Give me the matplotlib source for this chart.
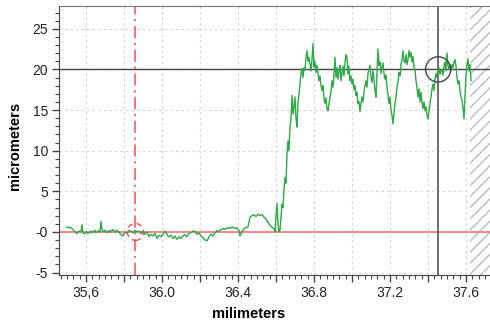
import matplotlib
matplotlib.use("Agg")
import matplotlib.pyplot as plt
import numpy as np
from matplotlib.patches import Ellipse
from matplotlib.ticker import MultipleLocator, FixedLocator, FixedFormatter

plt.rcParams["font.family"] = ["Liberation Sans", "DejaVu Sans"]
plt.rcParams["hatch.linewidth"] = 1.0

# profile sampled on a regular grid
x_start = 35.50
x_end = 37.626
heights = [
    0.6, 0.55, 0.5, 0.6, 0.55, 0.4, 0.3, 0.1, 0.0, -0.1,
    -0.2, 0.0, 0.1, 0.0, 0.0, 0.9, -0.1, -0.2, -0.2, -0.1,
    0.0, -0.2, -0.1, 0.0, 0.1, -0.1, 0.0, 0.1, 0.2, -0.1,
    0.0, 0.1, 0.1, 0.0, 1.3, 0.3, 0.1, 0.0, 0.2, 0.1,
    -0.1, 0.0, 0.2, 0.0, 0.1, 0.2, 0.3, 0.1, 0.0, 0.1,
    0.2, 0.1, 0.0, -0.2, -0.3, -0.4, -0.5, -0.2, 0.0, -0.1,
    -0.2, 0.0, 0.2, 0.1, 0.1, 0.0, -0.1, 0.0, 0.2, 0.1,
    0.0, 0.1, 0.1, 0.0, -0.2, -0.1, 0.1, -0.1, -0.3, -0.1,
    0.0, -0.3, -0.6, -0.4, -0.3, -0.4, -0.5, -0.3, -0.2, -0.5,
    -0.8, -0.6, -0.4, -0.5, -0.6, -0.4, -0.3, -0.1, 0.1, -0.1,
    -0.3, -0.5, -0.6, -0.5, -0.4, -0.6, -0.8, -0.7, -0.5, -0.7,
    -0.9, -0.8, -0.6, -0.7, -0.8, -0.6, -0.5, -0.4, -0.3, -0.5,
    -0.6, -0.4, -0.2, -0.1, -0.1, 0.0, 0.1, 0.1, 0.1, -0.1,
    -0.3, -0.2, -0.1, -0.3, -0.5, -0.6, -0.7, -0.9, -1.0, -1.0,
    -1.1, -0.9, -0.6, -0.4, -0.3, -0.4, -0.5, -0.3, -0.1, 0.0,
    0.2, 0.1, 0.0, 0.2, 0.3, 0.3, 0.4, 0.4, 0.3, 0.4,
    0.5, 0.5, 0.4, 0.5, 0.5, 0.6, 0.6, 0.5, 0.4, 0.5,
    0.5, 0.3, 0.2, -0.5, -0.2, 0.0, 0.2, 0.4, 0.5, 0.5,
    0.6, 0.6, 1.2, 1.8, 1.9, 2.0, 2.1, 2.1, 2.0, 1.9,
    2.0, 2.2, 2.1, 2.0, 2.1, 2.1, 2.0, 1.8, 1.7, 1.6,
    1.4, 1.2, 1.0, 0.8, 0.7, 0.6, 0.5, 0.4, 0.0, 2.0,
    3.5, 1.0, 0.0, 0.2, 1.8, 3.4, 3.0, 5.2, 6.7, 6.0,
    9.5, 11.2, 10.0, 12.9, 14.0, 16.8, 14.5, 15.4, 16.6, 14.0,
    12.9, 15.9, 17.0, 18.2, 19.5, 20.1, 19.0, 20.2, 19.9, 21.5,
    22.3, 21.0, 21.5, 20.7, 19.8, 21.2, 23.2, 20.3, 21.0, 19.6,
    20.5, 19.5, 18.6, 19.2, 18.0, 17.4, 18.0, 16.4, 15.8, 16.5,
    15.2, 14.9, 15.8, 16.6, 17.2, 18.6, 17.8, 19.5, 21.5, 19.0,
    20.2, 18.8, 19.8, 20.5, 18.6, 19.6, 20.4, 19.2, 20.8, 21.8,
    21.5, 19.4, 20.4, 18.6, 19.2, 18.2, 18.8, 17.5, 18.0, 16.8,
    17.2, 15.8, 16.0, 14.8, 15.8, 16.6, 16.0, 17.2, 18.0, 18.6,
    17.8, 19.5, 20.0, 20.5, 19.0, 18.4, 19.8, 18.8, 17.4, 16.6,
    19.5, 22.5, 20.5, 20.9, 19.5, 20.3, 20.8, 19.5, 18.8, 19.3,
    17.8, 16.8, 15.8, 16.6, 15.0, 14.4, 13.3, 14.6, 15.8, 16.6,
    17.8, 18.4, 19.6, 19.2, 20.6, 21.3, 22.3, 21.0, 20.8, 21.8,
    20.6, 21.2, 22.3, 21.5, 22.1, 20.9, 21.6, 20.3, 19.9, 18.6,
    17.8, 16.6, 17.6, 16.0, 17.2, 15.9, 15.2, 16.0, 14.9, 15.4,
    14.4, 13.9, 14.8, 15.6, 16.6, 17.6, 18.2, 17.4, 18.8, 19.5,
    19.0, 19.6, 20.2, 19.4, 19.8, 20.0, 19.3, 20.4, 20.9, 19.8,
    22.0, 20.5, 20.0, 20.6, 19.8, 20.6, 20.2, 20.9, 21.2, 20.4,
    19.0, 18.2, 18.6, 17.4, 16.6, 16.2, 15.3, 13.9, 16.8, 19.2,
    20.6, 21.3, 19.8, 20.6, 18.6,
]

# cursors and reference levels
ref_x = 35.86
cursor_x = 37.453
cursor_y = 20.0
zero_level = 0.0
masked_from = 37.62

x_ticks = [35.6, 35.8, 36.0, 36.2, 36.4, 36.6, 36.8, 37.0, 37.2, 37.4, 37.6]
x_labels = ["35,6", "", "36.0", "", "36.4", "", "36.8", "", "37.2", "", "37.6"]
y_ticks = [-5, 0, 5, 10, 15, 20, 25]
y_labels = ["-5", "-0", "5", "10", "15", "20", "25"]

xs = np.linspace(x_start, x_end, len(heights))

fig = plt.figure(figsize=(4.9, 3.22), dpi=100)
ax = fig.add_axes([59 / 490, 47 / 322, 431 / 490, 269 / 322])
ax.set_xlim(35.458, 37.726)
ax.set_ylim(-5.3, 27.8)

grid_kw = dict(color="#d4d4d4", linestyle=(0, (2, 3)), linewidth=0.8, zorder=0)
for t in x_ticks:
    ax.axvline(t, **grid_kw)
for t in y_ticks:
    ax.axhline(t, **grid_kw)

ax.axvspan(masked_from, 37.8, facecolor="white", edgecolor="#bcbcbc",
           hatch="///", linewidth=0, zorder=1)

ax.axhline(zero_level, color="#f27878", linewidth=1.2, zorder=2)
ax.axhline(cursor_y, color="#444444", linewidth=1.0, zorder=2)
ax.axvline(cursor_x, color="#555555", linewidth=1.2, zorder=2)
ax.axvline(ref_x, color="#f05050", linewidth=1.1,
           linestyle=(0, (8, 3, 1.5, 3)), zorder=2)

ax.plot(xs, heights, color="#2ea848", linewidth=1.0, zorder=3)

ax.add_patch(Ellipse((cursor_x, cursor_y), 0.132, 3.1, fill=False,
                     edgecolor="#444444", linewidth=1.0, zorder=4))
ax.add_patch(Ellipse((ref_x, zero_level), 0.085, 2.1, fill=False,
                     edgecolor="#f05050", linewidth=1.0,
                     linestyle=(0, (4, 3)), zorder=4))

ax.xaxis.set_major_locator(FixedLocator(x_ticks))
ax.xaxis.set_major_formatter(FixedFormatter(x_labels))
ax.xaxis.set_minor_locator(MultipleLocator(0.2 / 6))
ax.yaxis.set_major_locator(FixedLocator(y_ticks))
ax.yaxis.set_major_formatter(FixedFormatter(y_labels))
ax.yaxis.set_minor_locator(MultipleLocator(1))

ax.tick_params(which="major", direction="out", length=5, width=1,
               color="#444444", labelsize=10, labelcolor="#222222", pad=3)
ax.tick_params(which="minor", direction="out", length=3, width=0.8,
               color="#444444")

ax.spines["right"].set_visible(False)
ax.spines["top"].set_color("#777777")
ax.spines["left"].set_color("#444444")
ax.spines["bottom"].set_color("#444444")

ax.set_xlabel("milimeters", fontsize=10.5, fontweight="bold")
ax.set_ylabel("micrometers", fontsize=10.5, fontweight="bold")
ax.xaxis.set_label_coords((249 - 59) / 431, -0.12)
ax.yaxis.set_label_coords(-0.085, 0.48)

fig.savefig("out.png", dpi=100)
